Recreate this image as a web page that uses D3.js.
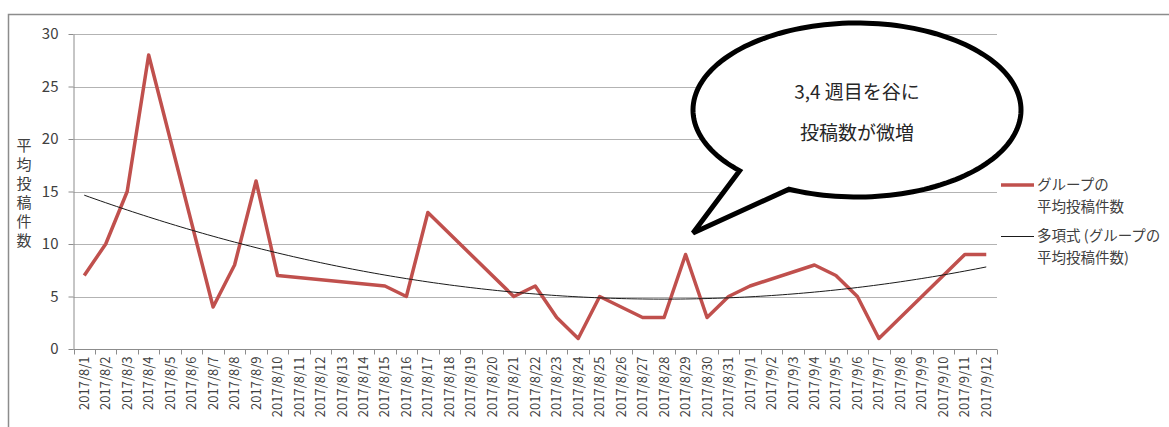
<!DOCTYPE html>
<html>
<head>
<meta charset="utf-8">
<script src="https://cdn.jsdelivr.net/npm/d3@7"></script>
<style>
  html, body { margin: 0; padding: 0; background: #fff; }
  svg { display: block; font-family: "Noto Sans CJK JP", "Noto Sans", sans-serif; }
</style>
</head>
<body>
<svg id="chart" width="1169" height="427"></svg>
<script>
// Every day on the category axis, 2017/8/1 .. 2017/9/12
const categories = [
  "2017/8/1","2017/8/2","2017/8/3","2017/8/4","2017/8/5","2017/8/6","2017/8/7","2017/8/8",
  "2017/8/9","2017/8/10","2017/8/11","2017/8/12","2017/8/13","2017/8/14","2017/8/15","2017/8/16",
  "2017/8/17","2017/8/18","2017/8/19","2017/8/20","2017/8/21","2017/8/22","2017/8/23","2017/8/24",
  "2017/8/25","2017/8/26","2017/8/27","2017/8/28","2017/8/29","2017/8/30","2017/8/31","2017/9/1",
  "2017/9/2","2017/9/3","2017/9/4","2017/9/5","2017/9/6","2017/9/7","2017/9/8","2017/9/9",
  "2017/9/10","2017/9/11","2017/9/12"
];

// Days that have a recorded group average, and that average
const postDates = [
  "2017/8/1","2017/8/2","2017/8/3","2017/8/4","2017/8/7","2017/8/8","2017/8/9","2017/8/10",
  "2017/8/15","2017/8/16","2017/8/17","2017/8/21","2017/8/22","2017/8/23","2017/8/24","2017/8/25",
  "2017/8/27","2017/8/28","2017/8/29","2017/8/30","2017/8/31","2017/9/1","2017/9/4","2017/9/5",
  "2017/9/6","2017/9/7","2017/9/11","2017/9/12"
];
const postCounts = [
  7, 10, 15, 28, 4, 8, 16, 7,
  6, 5, 13, 5, 6, 3, 1, 5,
  3, 3, 9, 3, 5, 6, 8, 7,
  5, 1, 9, 9
];

const yTicks = [0, 5, 10, 15, 20, 25, 30];
const yTitle = "平均投稿件数";
const seriesName = ["グループの", "平均投稿件数"];
const trendName = ["多項式 (グループの", "平均投稿件数)"];
const calloutLines = ["3,4 週目を谷に", "投稿数が微増"];

const svg = d3.select("#chart");

// Outer chart frame
svg.append("rect")
  .attr("x", 8.5).attr("y", 14.5)
  .attr("width", 1300).attr("height", 600)
  .attr("fill", "#fff").attr("stroke", "#8c8c8c").attr("stroke-width", 1.5);

const x = d3.scaleBand().domain(categories).range([73.5, 997]).padding(0);
const cx = d => x(d) + x.bandwidth() / 2;
const y = d3.scaleLinear().domain([0, 30]).range([349, 34]);

// Horizontal gridlines
svg.append("g")
  .selectAll("line")
  .data(yTicks.filter(t => t > 0))
  .join("line")
  .attr("x1", 73.5).attr("x2", 997)
  .attr("y1", d => Math.round(y(d)) + 0.5).attr("y2", d => Math.round(y(d)) + 0.5)
  .attr("stroke", "#b3b3b3").attr("stroke-width", 1.2);

// Y axis
const yAxis = svg.append("g")
  .attr("transform", "translate(73.5,0)")
  .call(d3.axisLeft(y).tickValues(yTicks).tickSize(5).tickPadding(10).tickSizeOuter(0));
yAxis.select(".domain").attr("stroke", "#8c8c8c");
yAxis.selectAll(".tick line").attr("stroke", "#8c8c8c");
yAxis.selectAll(".tick text")
  .attr("font-size", 15).attr("fill", "#404040")
  .attr("font-family", "'Noto Sans CJK JP', sans-serif");

// X axis with ticks at category boundaries
const xAxisG = svg.append("g").attr("transform", "translate(0,349.5)");
xAxisG.append("line")
  .attr("x1", 73.5).attr("x2", 997)
  .attr("stroke", "#8c8c8c");
xAxisG.selectAll("line.tk")
  .data(d3.range(categories.length + 1))
  .join("line").attr("class", "tk")
  .attr("x1", i => Math.round(73.5 + i * x.step()) + 0.5)
  .attr("x2", i => Math.round(73.5 + i * x.step()) + 0.5)
  .attr("y1", 0).attr("y2", 5)
  .attr("stroke", "#8c8c8c");
xAxisG.selectAll("text")
  .data(categories)
  .join("text")
  .attr("transform", d => `translate(${cx(d)},7) rotate(-90)`)
  .attr("text-anchor", "end")
  .attr("dy", "0.35em")
  .attr("font-size", 13)
  .attr("fill", "#404040")
  .text(d => d);

// Y axis title, characters stacked vertically
svg.append("g").selectAll("text")
  .data(Array.from(yTitle))
  .join("text")
  .attr("x", 24)
  .attr("y", (d, i) => 146 + i * 19)
  .attr("text-anchor", "middle")
  .attr("dy", "0.35em")
  .attr("font-size", 15)
  .attr("fill", "#404040")
  .text(d => d);

// Second-order least-squares trend of the series, on day index
const pts = postDates.map((d, i) => [categories.indexOf(d), postCounts[i]]);
function polyFit(points, order) {
  const n = order + 1;
  const A = Array.from({length: n}, () => new Array(n + 1).fill(0));
  for (const [px, py] of points) {
    for (let r = 0; r < n; r++) {
      for (let c = 0; c < n; c++) A[r][c] += Math.pow(px, r + c);
      A[r][n] += py * Math.pow(px, r);
    }
  }
  for (let i = 0; i < n; i++) {
    let p = i;
    for (let k = i + 1; k < n; k++) if (Math.abs(A[k][i]) > Math.abs(A[p][i])) p = k;
    [A[i], A[p]] = [A[p], A[i]];
    for (let k = i + 1; k < n; k++) {
      const f = A[k][i] / A[i][i];
      for (let c = i; c <= n; c++) A[k][c] -= f * A[i][c];
    }
  }
  const coef = new Array(n).fill(0);
  for (let i = n - 1; i >= 0; i--) {
    let s = A[i][n];
    for (let c = i + 1; c < n; c++) s -= A[i][c] * coef[c];
    coef[i] = s / A[i][i];
  }
  return coef;
}
const coef = polyFit(pts, 2);
const trendAt = t => coef.reduce((s, c, k) => s + c * Math.pow(t, k), 0);
const last = categories.length - 1;
const trendPts = d3.range(0, last + 0.001, 0.25).map(t => [t, trendAt(t)]);
const xi = t => x(categories[0]) + x.bandwidth() / 2 + t * x.step();

// Data series
svg.append("path")
  .datum(postDates.map((d, i) => [cx(d), y(postCounts[i])]))
  .attr("fill", "none")
  .attr("stroke", "#c0504d")
  .attr("stroke-width", 3.5)
  .attr("stroke-linejoin", "round")
  .attr("d", d3.line());

// Trend line on top
svg.append("path")
  .datum(trendPts)
  .attr("fill", "none")
  .attr("stroke", "#1a1a1a")
  .attr("stroke-width", 1)
  .attr("d", d3.line().x(p => xi(p[0])).y(p => y(p[1])));

// Legend
const legend = svg.append("g");
legend.append("line").attr("x1", 1001).attr("x2", 1034).attr("y1", 185).attr("y2", 185)
  .attr("stroke", "#c0504d").attr("stroke-width", 3.5);
legend.append("line").attr("x1", 1001).attr("x2", 1034).attr("y1", 236.5).attr("y2", 236.5)
  .attr("stroke", "#1a1a1a").attr("stroke-width", 1);
[[seriesName, 185], [trendName, 236]].forEach(([lines, ly]) => {
  lines.forEach((t, i) => {
    legend.append("text")
      .attr("x", 1037).attr("y", ly + i * 22)
      .attr("dy", "0.35em")
      .attr("font-size", 14.5)
      .attr("fill", "#404040")
      .text(t);
  });
});

// Speech-bubble callout: ellipse with a pointed tail to the lower left
const ecx = 857, ecy = 110, erx = 164, ery = 87;
const footL = [741, 170], footR = [790, 188], tip = [693, 233];
const angL = Math.atan2((footL[1] - ecy) / ery, (footL[0] - ecx) / erx);
const angR = Math.atan2((footR[1] - ecy) / ery, (footR[0] - ecx) / erx);
const sweep = 2 * Math.PI - (angL - angR);
const bubble = d3.path();
bubble.moveTo(ecx + erx * Math.cos(angR), ecy + ery * Math.sin(angR));
const steps = 160;
for (let s = 1; s <= steps; s++) {
  const a = angR - sweep * (s / steps);
  bubble.lineTo(ecx + erx * Math.cos(a), ecy + ery * Math.sin(a));
}
bubble.lineTo(tip[0], tip[1]);
bubble.closePath();
svg.append("path")
  .attr("d", bubble.toString())
  .attr("fill", "#fff")
  .attr("stroke", "#000")
  .attr("stroke-width", 5)
  .attr("stroke-linejoin", "miter");

svg.append("g").selectAll("text")
  .data(calloutLines)
  .join("text")
  .attr("x", ecx)
  .attr("y", (d, i) => 92 + i * 41)
  .attr("text-anchor", "middle")
  .attr("dy", "0.35em")
  .attr("font-size", 19)
  .attr("fill", "#262626")
  .text(d => d);
</script>
</body>
</html>
